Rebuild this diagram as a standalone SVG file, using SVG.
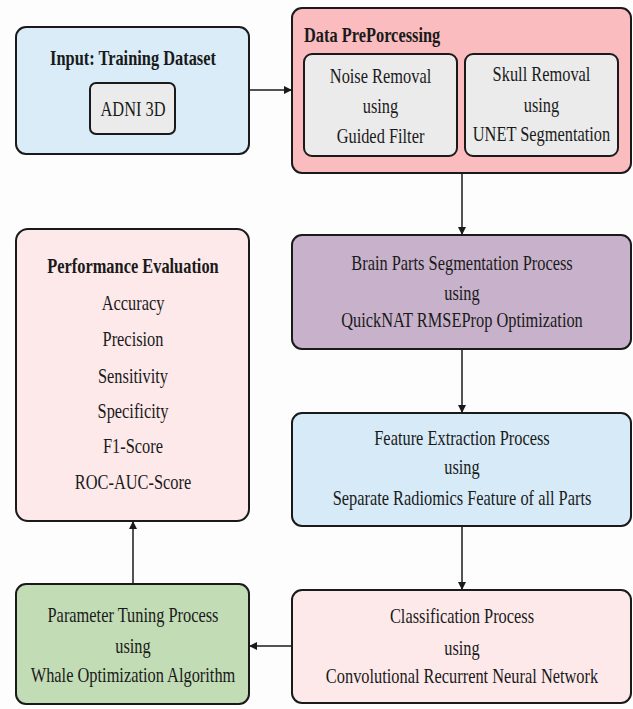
<svg xmlns="http://www.w3.org/2000/svg" width="633" height="709" viewBox="0 0 633 709">
<style>
.box{stroke:#1a1a1a;stroke-width:2}
.t{font-family:"Liberation Serif","Times New Roman",serif;font-size:22px;fill:#1a1a1a;text-anchor:middle}
.b{font-weight:bold}
.c{stroke:#1a1a1a;stroke-width:1.5;fill:none}
</style>
<defs>
<marker id="ah" viewBox="0 0 10 10" refX="10" refY="5" markerWidth="8" markerHeight="8" markerUnits="userSpaceOnUse" orient="auto">
<path d="M0,0 L10,5 L0,10 z" fill="#1a1a1a"/>
</marker>
</defs>
<rect width="633" height="709" fill="#fdfdfd"/>
<g id="connectors">
<line class="c" x1="249" y1="90" x2="292" y2="90" marker-end="url(#ah)"/>
<line class="c" x1="462" y1="173" x2="462" y2="235" marker-end="url(#ah)"/>
<line class="c" x1="462" y1="349" x2="462" y2="413" marker-end="url(#ah)"/>
<line class="c" x1="462" y1="526" x2="462" y2="590" marker-end="url(#ah)"/>
<line class="c" x1="292" y1="646" x2="249" y2="646" marker-end="url(#ah)"/>
<line class="c" x1="133" y1="584" x2="133" y2="521" marker-end="url(#ah)"/>
</g>
<g id="input">
<rect class="box" x="16" y="27" width="233" height="127" rx="10" fill="#d9ecf8"/>
<rect class="box" x="90" y="83" width="85" height="51" rx="6" fill="#ebebeb"/>
<g transform="translate(133 0) scale(0.745 1)">
<text class="t b" x="0" y="65">Input: Training Dataset</text>
<text class="t" x="0" y="116">ADNI 3D</text>
</g>
</g>
<g id="preprocessing">
<rect class="box" x="292" y="8" width="339" height="165" rx="10" fill="#fbbcc0"/>
<g transform="translate(304 0) scale(0.745 1)">
<text class="t b" x="0" y="42" style="text-anchor:start">Data PrePorcessing</text>
</g>
<g id="noise">
<rect class="box" x="304" y="54" width="153" height="102" rx="8" fill="#ebebeb"/>
<g transform="translate(380.5 0) scale(0.745 1)">
<text class="t" x="0" y="83">Noise Removal</text>
<text class="t" x="0" y="113">using</text>
<text class="t" x="0" y="143">Guided Filter</text>
</g>
</g>
<g id="skull">
<rect class="box" x="465" y="54" width="153" height="102" rx="8" fill="#ebebeb"/>
<g transform="translate(541.5 0) scale(0.745 1)">
<text class="t" x="0" y="81">Skull Removal</text>
<text class="t" x="0" y="112">using</text>
<text class="t" x="0" y="141">UNET Segmentation</text>
</g>
</g>
</g>
<g id="segmentation">
<rect class="box" x="292" y="235" width="339" height="114" rx="10" fill="#c8b2cb"/>
<g transform="translate(462 0) scale(0.745 1)">
<text class="t" x="0" y="270">Brain Parts Segmentation Process</text>
<text class="t" x="0" y="300">using</text>
<text class="t" x="0" y="327">QuickNAT RMSEProp Optimization</text>
</g>
</g>
<g id="feature">
<rect class="box" x="292" y="413" width="339" height="113" rx="10" fill="#d6eaf7"/>
<g transform="translate(462 0) scale(0.745 1)">
<text class="t" x="0" y="445">Feature Extraction Process</text>
<text class="t" x="0" y="474">using</text>
<text class="t" x="0" y="505">Separate Radiomics Feature of all Parts</text>
</g>
</g>
<g id="classification">
<rect class="box" x="292" y="590" width="339" height="113" rx="10" fill="#fde9ea"/>
<g transform="translate(462 0) scale(0.745 1)">
<text class="t" x="0" y="623">Classification Process</text>
<text class="t" x="0" y="655">using</text>
<text class="t" x="0" y="683">Convolutional Recurrent Neural Network</text>
</g>
</g>
<g id="tuning">
<rect class="box" x="16" y="584" width="233" height="120" rx="10" fill="#c2dcb5"/>
<g transform="translate(133 0) scale(0.745 1)">
<text class="t" x="0" y="622">Parameter Tuning Process</text>
<text class="t" x="0" y="653">using</text>
<text class="t" x="0" y="682">Whale Optimization Algorithm</text>
</g>
</g>
<g id="performance">
<rect class="box" x="16" y="229" width="233" height="292" rx="12" fill="#fde9ea"/>
<g transform="translate(133 0) scale(0.745 1)">
<text class="t b" x="0" y="273">Performance Evaluation</text>
<text class="t" x="0" y="310">Accuracy</text>
<text class="t" x="0" y="346">Precision</text>
<text class="t" x="0" y="383">Sensitivity</text>
<text class="t" x="0" y="418">Specificity</text>
<text class="t" x="0" y="453">F1-Score</text>
<text class="t" x="0" y="489">ROC-AUC-Score</text>
</g>
</g>
</svg>
